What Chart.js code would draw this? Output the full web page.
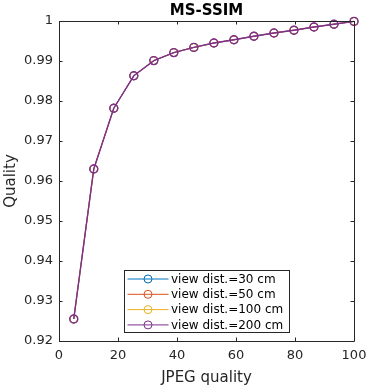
<!DOCTYPE html>
<html><head><meta charset="utf-8">
<script src="https://cdn.jsdelivr.net/npm/chart.js@4/dist/chart.umd.min.js"></script>
<style>html,body{margin:0;padding:0;background:#fff}#wrap{width:369px;height:387px}</style>
</head><body><div id="wrap"><canvas id="c" width="369" height="387"></canvas></div>
<script>
const jpegQuality = [5, 11.79, 18.57, 25.36, 32.14, 38.93, 45.71, 52.5, 59.29, 66.07, 72.86, 79.64, 86.43, 93.21, 100];
const dist30  = [0.9255, 0.9630, 0.9782, 0.9863, 0.9901, 0.9921, 0.9934, 0.9945, 0.9953, 0.9962, 0.9970, 0.9977, 0.9985, 0.9992, 0.9999];
const dist50  = [0.9255, 0.9630, 0.9782, 0.9863, 0.9901, 0.9921, 0.9934, 0.9945, 0.9953, 0.9962, 0.9970, 0.9977, 0.9985, 0.9992, 0.9999];
const dist100 = [0.9255, 0.9630, 0.9782, 0.9863, 0.9901, 0.9921, 0.9934, 0.9945, 0.9953, 0.9962, 0.9970, 0.9977, 0.9985, 0.9992, 0.9999];
const dist200 = [0.9255, 0.9630, 0.9782, 0.9863, 0.9901, 0.9921, 0.9934, 0.9945, 0.9953, 0.9962, 0.9970, 0.9977, 0.9985, 0.9992, 0.9999];
const seriesLabels = ['view dist.=30 cm', 'view dist.=50 cm', 'view dist.=100 cm', 'view dist.=200 cm'];
const seriesColors = ['#0072BD', '#D95319', '#EDB120', '#7E2F8E'];
const xTicks = [0, 20, 40, 60, 80, 100];
const yTicks = [0.92, 0.93, 0.94, 0.95, 0.96, 0.97, 0.98, 0.99, 1];
const titleText = 'MS-SSIM';
const xTitle = 'JPEG quality';
const yTitle = 'Quality';

const AX = '#262626';
const FONT = '"DejaVu Sans", sans-serif';
const allSeries = [dist30, dist50, dist100, dist200];

const datasets = allSeries.map((s, i) => ({
  label: seriesLabels[i],
  data: s.map((v, j) => ({x: jpegQuality[j], y: v})),
  borderColor: seriesColors[i],
  backgroundColor: 'rgba(0,0,0,0)',
  borderWidth: i === allSeries.length - 1 ? 1.4 : 1,
  pointRadius: 4,
  pointBorderWidth: i === allSeries.length - 1 ? 1.4 : 1,
  pointBackgroundColor: 'rgba(0,0,0,0)',
  pointBorderColor: seriesColors[i],
  tension: 0,
  clip: false,
  order: allSeries.length - 1 - i
}));

const boxPlugin = {
  id: 'boxTicks',
  afterDraw(chart) {
    const ctx = chart.ctx;
    const {left, right, top, bottom} = chart.chartArea;
    const xs = chart.scales.x, ys = chart.scales.y;
    ctx.save();
    ctx.strokeStyle = AX;
    ctx.lineWidth = 1;
    ctx.beginPath();
    ctx.rect(Math.round(left) + 0.5, Math.round(top) + 0.5, Math.round(right - left), Math.round(bottom - top));
    ctx.stroke();
    const tl = 3.5;
    ctx.beginPath();
    xTicks.forEach(v => {
      const p = Math.round(xs.getPixelForValue(v)) + 0.5;
      ctx.moveTo(p, bottom); ctx.lineTo(p, bottom - tl);
      ctx.moveTo(p, top); ctx.lineTo(p, top + tl);
    });
    yTicks.forEach(v => {
      const p = Math.round(ys.getPixelForValue(v)) + 0.5;
      ctx.moveTo(left, p); ctx.lineTo(left + tl, p);
      ctx.moveTo(right, p); ctx.lineTo(right - tl, p);
    });
    ctx.stroke();

    // legend
    const lx = left + 65.5, ly = top + 249.5, lw = 165, lh = 62;
    ctx.fillStyle = '#fff';
    ctx.fillRect(lx, ly, lw, lh);
    ctx.strokeStyle = AX;
    ctx.strokeRect(lx, ly, lw, lh);
    ctx.font = '12px ' + FONT;
    ctx.textBaseline = 'middle';
    ctx.textAlign = 'left';
    seriesLabels.forEach((lab, i) => {
      const yy = ly + 8.5 + i * 15.3;
      ctx.strokeStyle = seriesColors[i];
      ctx.beginPath();
      ctx.moveTo(lx + 3, yy); ctx.lineTo(lx + 44, yy);
      ctx.stroke();
      ctx.beginPath();
      ctx.arc(lx + 23.5, yy, 4, 0, Math.PI * 2);
      ctx.stroke();
      ctx.fillStyle = '#000';
      ctx.fillText(lab, lx + 46.5, yy + 0.5);
    });
    ctx.restore();
  }
};

new Chart(document.getElementById('c'), {
  type: 'line',
  data: {datasets},
  plugins: [boxPlugin],
  options: {
    responsive: false,
    devicePixelRatio: 1,
    animation: false,
    layout: {padding: {left: 0, right: 15, top: 0, bottom: 0}},
    plugins: {
      legend: {display: false},
      tooltip: {enabled: false},
      title: {
        display: true, text: titleText, color: '#000', fullSize: false,
        font: {family: FONT, size: 15, weight: 'bold'},
        padding: {top: 2, bottom: 1}
      }
    },
    scales: {
      x: {
        type: 'linear', min: 0, max: 100,
        afterBuildTicks: s => { s.ticks = xTicks.map(v => ({value: v})); },
        afterFit: s => { s.height = 46; s.paddingLeft = 0; s.paddingRight = 0; },
        grid: {display: false, drawTicks: false},
        border: {display: false},
        ticks: {color: AX, font: {family: FONT, size: 13}, padding: 7, maxRotation: 0,
                callback: v => String(v)},
        title: {display: true, text: xTitle, color: AX, font: {family: FONT, size: 15}, padding: {top: 0, bottom: 0}}
      },
      y: {
        type: 'linear', min: 0.92, max: 1,
        afterBuildTicks: s => { s.ticks = yTicks.map(v => ({value: v})); },
        afterFit: s => { s.width = 59; s.paddingTop = 0; s.paddingBottom = 0; },
        grid: {display: false, drawTicks: false},
        border: {display: false},
        ticks: {color: AX, font: {family: FONT, size: 13}, padding: 6,
                callback: v => String(+Number(v).toFixed(2))},
        title: {display: true, text: yTitle, color: AX, font: {family: FONT, size: 15}, padding: {top: 2, bottom: 0}}
      }
    }
  }
});
</script></body></html>
